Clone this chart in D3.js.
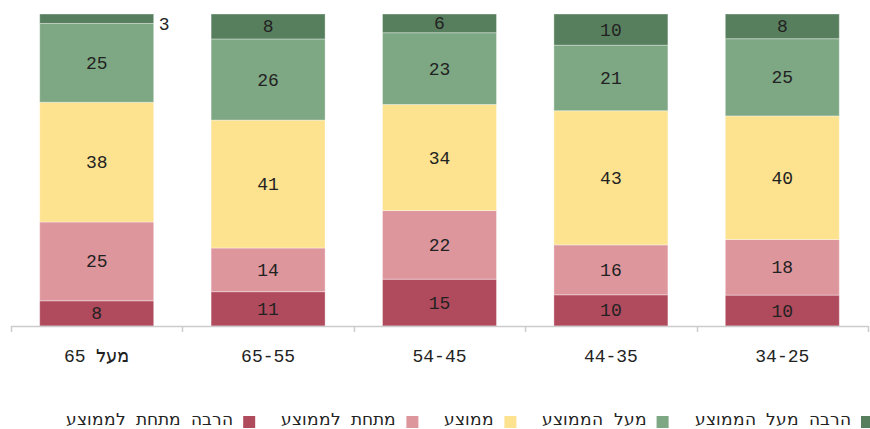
<!DOCTYPE html>
<html lang="he">
<head>
<meta charset="utf-8">
<script src="https://cdn.jsdelivr.net/npm/d3@7"></script>
<style>
  @font-face {
    font-family: "HebrewSans";
    src: local("DejaVu Sans"), local("DejaVuSans");
    unicode-range: U+0590-05FF;
  }
  html, body { margin: 0; padding: 0; background: #fff; }
  svg { display: block; font-family: "HebrewSans", "Liberation Mono", "DejaVu Sans", monospace; }
</style>
</head>
<body>
<svg id="chart" width="870" height="429"></svg>
<script>
// Age groups, left to right
const categories = ["מעל 65", "65-55", "54-45", "44-35", "34-25"];

// Series, from the bottom of each bar to the top
const seriesNames = ["הרבה מתחת לממוצע", "מתחת לממוצע", "ממוצע", "מעל הממוצע", "הרבה מעל הממוצע"];
const muchBelow = [8, 11, 15, 10, 10];
const below     = [25, 14, 22, 16, 18];
const average   = [38, 41, 34, 43, 40];
const above     = [25, 26, 23, 21, 25];
const muchAbove = [3, 8, 6, 10, 8];

const colors = ["#b04a5d", "#de969d", "#fde28f", "#7ea784", "#587f5d"];

// Legend reads right to left
const legendOrder = [4, 3, 2, 1, 0];

const seriesValues = [muchBelow, below, average, above, muchAbove];
const rows = categories.map((c, i) => {
  const r = { category: c };
  seriesNames.forEach((s, k) => { r[s] = seriesValues[k][i]; });
  return r;
});

const svg = d3.select("#chart");
const margin = { left: 11, right: 2, top: 14, bottom: 103 };
const W = 870, H = 429;
const fontSize = 18;

const x = d3.scaleBand()
  .domain(categories)
  .range([margin.left, W - margin.right])
  .paddingInner(0.335)
  .paddingOuter(0.1675);

const y = d3.scaleLinear().domain([0, 1]).range([H - margin.bottom, margin.top]);

const stack = d3.stack().keys(seriesNames).offset(d3.stackOffsetExpand);
const layers = stack(rows);

const g = svg.append("g");

const layerG = g.selectAll("g.layer")
  .data(layers)
  .join("g")
  .attr("class", "layer")
  .attr("fill", (d, i) => colors[i]);

layerG.selectAll("rect")
  .data(d => d)
  .join("rect")
  .attr("x", d => x(d.data.category))
  .attr("width", x.bandwidth())
  .attr("y", d => y(d[1]))
  .attr("height", d => y(d[0]) - y(d[1]))
  .attr("stroke", "rgba(255,255,255,0.35)")
  .attr("stroke-width", 1);

// Value labels: inside the segment, or beside the bar when the segment is thin
layers.forEach((layer, li) => {
  layer.forEach(d => {
    const v = d.data[layer.key];
    const y0 = y(d[0]), y1 = y(d[1]);
    const small = (y0 - y1) < 16;
    g.append("text")
      .attr("x", small ? x(d.data.category) + x.bandwidth() + 5 : x(d.data.category) + x.bandwidth() / 2)
      .attr("y", small ? (y0 + y1) / 2 + 11 : (y0 + y1) / 2 + 6)
      .attr("text-anchor", small ? "start" : "middle")
      .attr("font-size", fontSize)
      .attr("fill", "#222")
      .text(v);
  });
});

// Category axis
const axisG = svg.append("g")
  .attr("transform", `translate(0,${H - margin.bottom})`);

const tickXs = categories.map(c => x(c) - x.step() * x.paddingInner() / 2)
  .concat([x(categories[categories.length - 1]) + x.bandwidth() + x.step() * x.paddingInner() / 2]);

axisG.append("line")
  .attr("x1", tickXs[0]).attr("x2", tickXs[tickXs.length - 1])
  .attr("y1", 0.5).attr("y2", 0.5)
  .attr("stroke", "#cccccc").attr("stroke-width", 1.5);

axisG.selectAll("line.tick")
  .data(tickXs)
  .join("line")
  .attr("class", "tick")
  .attr("x1", d => Math.round(d) + 0.5).attr("x2", d => Math.round(d) + 0.5)
  .attr("y1", 0).attr("y2", 6)
  .attr("stroke", "#cccccc").attr("stroke-width", 1.5);

axisG.selectAll("text")
  .data(categories)
  .join("text")
  .attr("x", d => x(d) + x.bandwidth() / 2)
  .attr("y", 36)
  .attr("text-anchor", "middle")
  .attr("font-size", fontSize)
  .attr("fill", "#222")
  .text(d => d);

// Legend, laid out from the right edge leftwards
const legend = svg.append("g");
let cursor = 861;
const sq = 12, gapText = 10, gapItem = 26, legendBase = 425;
legendOrder.forEach(k => {
  legend.append("rect")
    .attr("x", cursor).attr("y", legendBase - 9)
    .attr("width", sq).attr("height", sq)
    .attr("fill", colors[k]);
  const t = legend.append("text")
    .attr("x", cursor - gapText)
    .attr("y", legendBase)
    .attr("text-anchor", "end")
    .attr("font-size", 17)
    .attr("fill", "#222")
    .text(seriesNames[k]);
  const w = t.node().getComputedTextLength();
  cursor = cursor - gapText - w - gapItem - sq;
});
</script>
</body>
</html>
